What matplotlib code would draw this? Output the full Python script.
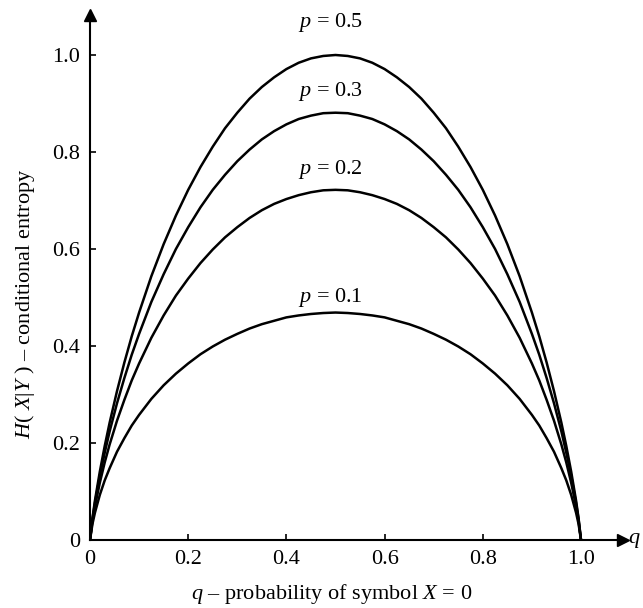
import matplotlib
matplotlib.use("Agg")
import matplotlib.pyplot as plt

plt.rcParams['font.family'] = ['Liberation Serif', 'DejaVu Serif']
plt.rcParams['mathtext.fontset'] = 'custom'
plt.rcParams['mathtext.rm'] = 'Liberation Serif'
plt.rcParams['mathtext.it'] = 'Liberation Serif:italic'

# q - probability of symbol X=0
q = [0, .005, .01, .02, .03, .04, .055, .07, .085, .1, .125, .15, .175, .2, .225, .25,
     .275, .3, .325, .35, .375, .4, .425, .45, .475, .5,
     .525, .55, .575, .6, .625, .65, .675, .7, .725, .75, .775, .8, .825, .85, .875, .9,
     .915, .93, .945, .96, .97, .98, .99, .995, 1]

# H(X|Y) for each p
h_p05 = [0, .045, .081, .141, .194, .242, .307, .366, .420, .469, .544, .610, .669, .722, .769, .811,
         .849, .881, .910, .934, .954, .971, .984, .993, .998, 1.0,
         .998, .993, .984, .971, .954, .934, .910, .881, .849, .811, .769, .722, .669, .610, .544, .469,
         .420, .366, .307, .242, .194, .141, .081, .045, 0]
h_p03 = [0, .043, .076, .132, .180, .224, .282, .334, .382, .425, .491, .548, .600, .645, .686, .722,
         .753, .781, .805, .826, .843, .857, .868, .875, .880, .881,
         .880, .875, .868, .857, .843, .826, .805, .781, .753, .722, .686, .645, .600, .548, .491, .425,
         .382, .334, .282, .224, .180, .132, .076, .043, 0]
h_p02 = [0, .039, .069, .118, .160, .197, .246, .289, .329, .364, .417, .463, .504, .539, .571, .599,
         .624, .645, .664, .680, .693, .703, .711, .717, .721, .722,
         .721, .717, .711, .703, .693, .680, .664, .645, .624, .599, .571, .539, .504, .463, .417, .364,
         .329, .289, .246, .197, .160, .118, .069, .039, 0]
h_p01 = [0, .033, .056, .093, .123, .148, .182, .210, .236, .258, .291, .319, .343, .364, .383, .399,
         .413, .425, .436, .445, .452, .459, .463, .466, .468, .469,
         .468, .466, .463, .459, .452, .445, .436, .425, .413, .399, .383, .364, .343, .319, .291, .258,
         .236, .210, .182, .148, .123, .093, .056, .033, 0]

curves = [(h_p05, "0.5", 1.066), (h_p03, "0.3", 0.924),
          (h_p02, "0.2", 0.763), (h_p01, "0.1", 0.501)]

fig = plt.figure(figsize=(6.43, 6.08), dpi=100)
ax = fig.add_axes([90/643, 68/608, 533/643, 525/608])

for h, lab, ly in curves:
    ax.plot(q, h, color='black', lw=1.8)
    ax.text(0.49, ly, "$p$ = " + lab, ha='center', va='center', fontsize=16)

ax.set_xlim(0, 533/491)
ax.set_ylim(0, 525/485)
ax.spines['top'].set_visible(False)
ax.spines['right'].set_visible(False)
ax.spines['left'].set_linewidth(1.5)
ax.spines['bottom'].set_linewidth(1.5)

ax.set_xticks([0, 0.2, 0.4, 0.6, 0.8, 1.0])
ax.set_xticklabels(["0", "0.2", "0.4", "0.6", "0.8", "1.0"])
ax.set_yticks([0, 0.2, 0.4, 0.6, 0.8, 1.0])
ax.set_yticklabels(["0", "0.2", "0.4", "0.6", "0.8", "1.0"])
ax.tick_params(direction='in', length=4, width=1.2, labelsize=16, pad=7)

# axis arrows
ax.plot(1, 0, ">k", ms=9, transform=ax.get_yaxis_transform(), clip_on=False)
ax.plot(0, 1, "^k", ms=9, transform=ax.get_xaxis_transform(), clip_on=False)
fig.text(641/643, 68/608, "$q$", ha='right', va='center', fontsize=16)

ax.set_xlabel("$q$ – probability of symbol $X$ = 0", fontsize=16)
ax.xaxis.set_label_coords(0.454, -0.08)
ax.set_ylabel("$H$( $X|Y$ ) – conditional entropy", fontsize=16)
ax.yaxis.set_label_coords(-0.1, 0.45)

fig.savefig("out.png", dpi=100)
